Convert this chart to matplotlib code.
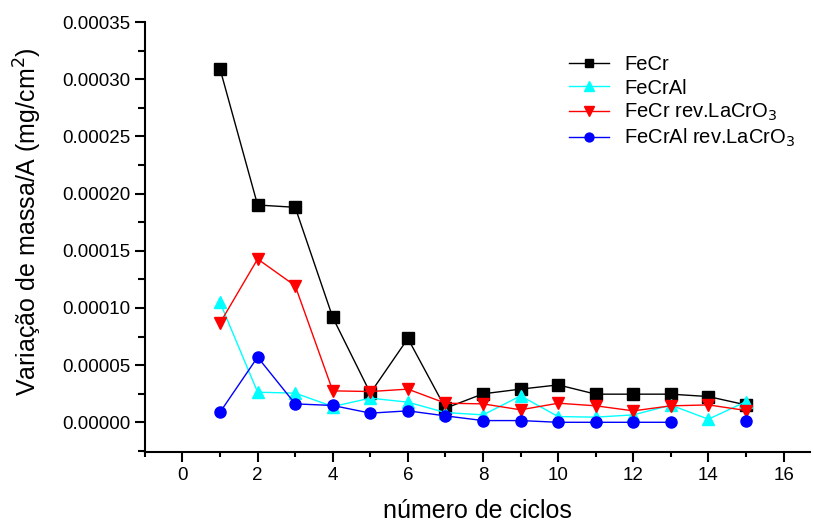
import numpy as np
import matplotlib
matplotlib.use('Agg')
import matplotlib.pyplot as plt
from matplotlib.ticker import MultipleLocator, FormatStrFormatter

plt.rcParams['font.family'] = ['Liberation Sans', 'DejaVu Sans']

# numero de ciclos
ciclos = np.arange(1, 16)

# variacao de massa / area (mg/cm2)
fecr = [0.000309, 0.000190, 0.000188, 0.0000917, 0.0000255, 0.0000733, 0.0000123, 0.0000249,
        0.0000290, 0.0000327, 0.0000246, 0.0000246, 0.0000246, 0.0000225, 0.0000152]
fecral = [0.0001048, 0.0000263, 0.0000255, 0.0000138, 0.0000211, 0.0000176, 0.0000085, 0.0000065,
          0.0000231, 0.0000050, 0.0000045, 0.0000065, 0.0000150, 0.0000027, 0.0000181]
fecr_rev = [0.0000868, 0.0001428, 0.0001194, 0.0000275, 0.0000269, 0.0000290, 0.0000167, 0.0000161,
            0.0000109, 0.0000167, 0.0000144, 0.0000100, 0.0000144, 0.0000152, 0.0000103]
fecral_rev = [0.0000088, 0.0000570, 0.0000161, 0.0000147, 0.0000080, 0.0000100, 0.0000056, 0.0000015,
              0.0000015, 0.0, 0.0, 0.0, 0.0, np.nan, 0.0000015]

fig = plt.figure(figsize=(8.14, 5.25), dpi=100)
ax = fig.add_axes([0.178, 0.139, 0.817, 0.819])

ax.plot(ciclos, fecr, color='black', lw=1, marker='s', ms=8, label='FeCr')
ax.plot(ciclos, fecral, color='cyan', lw=1, marker='^', ms=9, label='FeCrAl')
ax.plot(ciclos, fecr_rev, color='red', lw=1, marker='v', ms=9, label='FeCr rev.LaCrO$_3$')
ax.plot(ciclos, fecral_rev, color='blue', lw=1, marker='o', ms=8, label='FeCrAl rev.LaCrO$_3$')

ax.set_xlim(-1, 16.7)
ax.set_ylim(-0.000026, 0.00035)
ax.xaxis.set_major_locator(MultipleLocator(2))
ax.xaxis.set_minor_locator(MultipleLocator(1))
ax.yaxis.set_major_locator(MultipleLocator(0.00005))
ax.yaxis.set_minor_locator(MultipleLocator(0.000025))
ax.yaxis.set_major_formatter(FormatStrFormatter('%.5f'))

ax.spines['top'].set_visible(False)
ax.spines['right'].set_visible(False)
ax.spines['left'].set_linewidth(1.5)
ax.spines['bottom'].set_linewidth(1.5)
ax.tick_params(which='major', direction='out', length=7, width=1.5, labelsize=13.5)
ax.tick_params(axis='x', which='minor', direction='out', length=3.5, width=1.5)
ax.tick_params(axis='y', which='minor', direction='out', length=5, width=1.5)

ax.set_xlabel('número de ciclos', fontsize=18, labelpad=11)
ax.set_ylabel('Variação de massa/A (mg/cm$^2$)', fontsize=18)
ax.yaxis.set_label_coords(-0.152, 0.535)

ax.legend(loc='upper left', bbox_to_anchor=(0.616, 0.955), frameon=False, fontsize=14.5,
          handlelength=2.0, handletextpad=0.75, labelspacing=0.2, borderpad=0.2,
          markerscale=0.8)

plt.savefig('out.png', dpi=100)
